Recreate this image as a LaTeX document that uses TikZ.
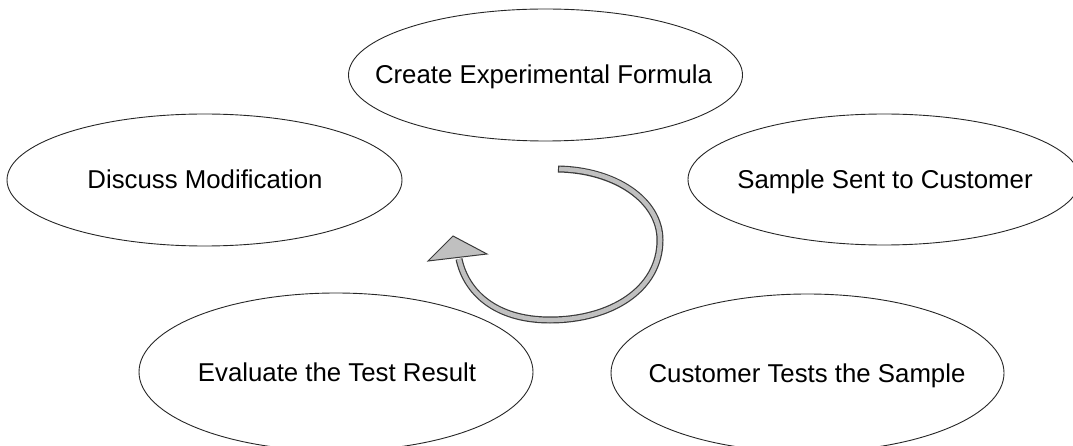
\documentclass[tikz,border=0pt]{standalone}
\usepackage{fontspec}
\setmainfont{Liberation Sans}
\usetikzlibrary{shapes.geometric}
\definecolor{bandgray}{HTML}{C0C0C0}
\definecolor{edgegray}{HTML}{3A3A3A}
\begin{document}
\begin{tikzpicture}[x=1pt,y=-1pt,
  stage/.style={draw=black!85,line width=0.9pt,ellipse,inner sep=0pt},
  lbl/.style={font=\fontsize{25.8}{30}\selectfont,inner sep=0pt,text=black,anchor=base}]
\useasboundingbox (0,0) rectangle (1073,446);
\clip (0,0) rectangle (1073,446);
% ellipses
\node[stage,minimum width=394pt,minimum height=132pt] (create) at (545.5,75) {};
\node[stage,minimum width=395pt,minimum height=132pt] (discuss) at (204.5,180) {};
\node[stage,minimum width=392pt,minimum height=131pt] (sample) at (884,179.5) {};
\node[stage,minimum width=394pt,minimum height=158pt] (evaluate) at (336,372) {};
\node[stage,minimum width=393pt,minimum height=158pt] (tests) at (807.5,373) {};
% labels
\node[lbl] (tcreate) at (543.5,84) {Create Experimental Formula};
\node[lbl] (tdiscuss) at (205,189) {Discuss Modification};
\node[lbl] (tsample) at (885,189) {Sample Sent to Customer};
\node[lbl] (tevaluate) at (337,381.5) {Evaluate the Test Result};
\node[lbl] (ttests) at (807,382) {Customer Tests the Sample};
% cycle arrow
\coordinate (a0) at (558,169);
\coordinate (a1) at (660,240);
\coordinate (a2) at (550,320);
\coordinate (a3) at (459,259);
\draw[edgegray,line width=7pt,line cap=butt]
  (a0) .. controls (615,170) and (660,200) .. (a1)
       .. controls (660,290) and (610,320) .. (a2)
       .. controls (495,320) and (466,292) .. (a3);
\draw[bandgray,line width=4.6pt,line cap=butt]
  ([xshift=1.2pt]a0) .. controls (615,170) and (660,200) .. (a1)
       .. controls (660,290) and (610,320) .. (a2)
       .. controls (495,320) and (466,292) .. (a3);
\coordinate (h1) at (453,236);
\coordinate (h2) at (428,261);
\coordinate (h3) at (487,254);
\filldraw[fill=bandgray,draw=edgegray,line width=1pt,line join=miter] (h1) -- (h2) -- (h3) -- cycle;
\end{tikzpicture}
\end{document}
